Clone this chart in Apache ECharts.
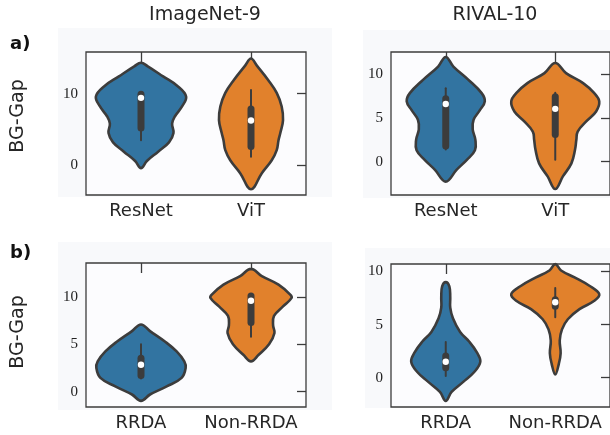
<!DOCTYPE html>
<html>
<head>
<meta charset="utf-8">
<script src="https://cdn.jsdelivr.net/npm/echarts@6/dist/echarts.min.js"></script>
<style>
  html, body { margin: 0; padding: 0; background: #ffffff; }
  #wrap { position: relative; width: 610px; height: 435px; overflow: hidden; }
  .panel-bg { position: absolute; background: #f8f9fb; }
  #chart { position: absolute; left: 0; top: 0; width: 610px; height: 435px; }
</style>
</head>
<body>
<div id="wrap">
  <div class="panel-bg" style="left:58px;top:28px;width:274px;height:169px"></div>
  <div class="panel-bg" style="left:363px;top:30px;width:247px;height:168px"></div>
  <div class="panel-bg" style="left:58px;top:242px;width:274px;height:168px"></div>
  <div class="panel-bg" style="left:365px;top:248px;width:245px;height:160px"></div>
  <div id="chart"></div>
</div>
<script>
// Category names for the two rows
const archCats = ['ResNet', 'ViT'];
const augCats = ['RRDA', 'Non-RRDA'];
const yTicksInet9Arch = [0, 10];
const yTicksOther = [0, 5, 10];

// Violin outlines: BG-Gap levels and the relative density (1 = widest) at each level
const inet9ResNetLevels   = [14.3, 13.8, 12.4, 11.0, 9.6, 8.2, 6.8, 5.8, 4.5, 3.2, 1.9, 0.6, -0.4];
const inet9ResNetDensity  = [0, 0.15, 0.49, 0.82, 1.0, 0.91, 0.75, 0.69, 0.72, 0.62, 0.38, 0.13, 0];
const inet9ViTLevels      = [14.9, 13.9, 11.9, 10.1, 8.2, 6.3, 4.5, 3.5, 2.1, 0.7, -1.1, -3.35];
const inet9ViTDensity     = [0, 0.13, 0.38, 0.57, 0.68, 0.71, 0.65, 0.61, 0.57, 0.46, 0.24, 0];

const rival10ResNetLevels  = [12.0, 10.9, 9.4, 7.85, 6.9, 5.9, 4.8, 3.7, 2.5, 1.3, 0.2, -0.95, -2.3];
const rival10ResNetDensity = [0, 0.17, 0.50, 0.80, 0.87, 0.76, 0.62, 0.60, 0.66, 0.65, 0.47, 0.24, 0];
const rival10ViTLevels     = [11.3, 10.15, 9.0, 7.85, 6.9, 5.75, 4.6, 3.45, 2.5, 1.35, -0.2, -1.7, -3.15];
const rival10ViTDensity    = [0, 0.24, 0.62, 0.87, 0.98, 0.91, 0.69, 0.50, 0.47, 0.44, 0.36, 0.17, 0];

const inet9RrdaLevels     = [7.1, 6.4, 5.3, 4.25, 3.2, 2.5, 1.45, 0.55, -0.3, -0.97];
const inet9RrdaDensity    = [0, 0.20, 0.53, 0.79, 0.96, 0.99, 0.90, 0.57, 0.20, 0];
const inet9NonRrdaLevels  = [12.97, 12.2, 11.3, 10.25, 9.9, 9.0, 8.0, 7.0, 6.2, 5.0, 3.9, 3.2];
const inet9NonRrdaDensity = [0, 0.24, 0.61, 0.87, 0.90, 0.71, 0.51, 0.49, 0.52, 0.40, 0.17, 0];

const rival10RrdaLevels     = [9.0, 8.6, 7.6, 6.6, 5.6, 4.3, 3.4, 2.4, 1.5, 0.55, -0.4, -1.35, -2.2];
const rival10RrdaDensity    = [0, 0.08, 0.1, 0.1, 0.16, 0.32, 0.52, 0.69, 0.77, 0.64, 0.39, 0.13, 0];
const rival10NonRrdaLevels  = [10.7, 10.1, 9.45, 8.66, 7.87, 7.24, 6.45, 5.5, 4.55, 3.5, 2.3, 1.3, 0.3];
const rival10NonRrdaDensity = [0, 0.13, 0.43, 0.76, 0.98, 0.87, 0.54, 0.28, 0.15, 0.10, 0.12, 0.08, 0];

// Inner box plots: [lower whisker, Q1, median, Q3, upper whisker]
const inet9ArchBox   = [[3.5, 5.2, 9.4, 9.9, 10.2], [1.2, 2.6, 6.25, 7.85, 10.5]];
const rival10ArchBox = [[1.4, 1.8, 6.6, 7.2, 8.4], [0.2, 3.1, 6.05, 7.45, 7.9]];
const inet9AugBox    = [[1.4, 1.72, 2.85, 3.53, 5.0], [5.8, 7.3, 9.6, 10.1, 10.3]];
const rival10AugBox  = [[0.15, 0.93, 1.5, 2.04, 3.35], [5.68, 6.73, 7.1, 7.35, 8.45]];

const BLUE = '#3274a1';
const ORANGE = '#e1812c';
const INK = '#3c3c3c';
const SANS = '"DejaVu Sans", sans-serif';
const SERIF = '"Liberation Serif", "DejaVu Serif", serif';
const VIOLIN_HALF = 0.41; // half width of a density-1 violin, as a share of the category band

const panels = [
  { grid: { left: 86, top: 52, width: 220, height: 143 }, cats: archCats, min: -4.15, max: 15.8,
    ticks: yTicksInet9Arch, levels: [inet9ResNetLevels, inet9ViTLevels],
    density: [inet9ResNetDensity, inet9ViTDensity], box: inet9ArchBox },
  { grid: { left: 391, top: 52, width: 220, height: 143 }, cats: archCats, min: -3.83, max: 12.57,
    ticks: yTicksOther, levels: [rival10ResNetLevels, rival10ViTLevels],
    density: [rival10ResNetDensity, rival10ViTDensity], box: rival10ArchBox },
  { grid: { left: 86, top: 263, width: 220, height: 144 }, cats: augCats, min: -1.62, max: 13.59,
    ticks: yTicksOther, levels: [inet9RrdaLevels, inet9NonRrdaLevels],
    density: [inet9RrdaDensity, inet9NonRrdaDensity], box: inet9AugBox },
  { grid: { left: 391, top: 264, width: 220, height: 143 }, cats: augCats, min: -2.77, max: 10.71,
    ticks: yTicksOther, levels: [rival10RrdaLevels, rival10NonRrdaLevels],
    density: [rival10RrdaDensity, rival10NonRrdaDensity], box: rival10AugBox }
];

const grids = [], xAxes = [], yAxes = [], series = [];

panels.forEach((p, g) => {
  grids.push(Object.assign({
    show: true, borderColor: INK, borderWidth: 1.3, backgroundColor: '#fcfcfe', containLabel: false
  }, p.grid));

  // bottom axis carries the labels, top axis carries the inward ticks
  xAxes.push({
    type: 'category', gridIndex: g, data: p.cats, position: 'bottom',
    axisLine: { show: false, onZero: false }, axisTick: { show: false }, splitLine: { show: false },
    axisLabel: { interval: 0, fontFamily: SANS, fontSize: 18, color: '#262626', margin: 7 }
  });
  xAxes.push({
    type: 'category', gridIndex: g, data: p.cats, position: 'top',
    axisLine: { show: false, onZero: false }, axisLabel: { show: false }, splitLine: { show: false },
    axisTick: { show: true, inside: true, length: 10, alignWithLabel: true, interval: 0,
      lineStyle: { color: INK, width: 1.3 } }
  });
  yAxes.push({
    type: 'value', gridIndex: g, min: p.min, max: p.max, position: 'left',
    axisLine: { show: false, onZero: false }, axisTick: { show: false }, splitLine: { show: false },
    axisLabel: { customValues: p.ticks, fontFamily: SERIF, fontSize: 15, color: '#222', margin: 8 }
  });
  yAxes.push({
    type: 'value', gridIndex: g, min: p.min, max: p.max, position: 'right',
    axisLine: { show: false, onZero: false }, axisLabel: { show: false }, splitLine: { show: false },
    axisTick: { show: true, inside: true, length: 9, customValues: p.ticks,
      lineStyle: { color: INK, width: 1.3 } }
  });

  series.push({
    type: 'custom',
    xAxisIndex: g * 2, yAxisIndex: g * 2,
    data: p.box.map((b, i) => [i, b[2]]),
    renderItem(params, api) {
      const i = params.dataIndex;
      const cat = api.value(0);
      const levels = p.levels[i], dens = p.density[i], box = p.box[i];
      const cx = api.coord([cat, 0])[0];
      const half = api.size([1, 0])[0] * VIOLIN_HALF;
      const n = levels.length;
      const pts = [];
      for (let k = 0; k < n; k++) {
        pts.push([cx - dens[k] * half, api.coord([cat, levels[k]])[1]]);
      }
      for (let k = n - 2; k >= 1; k--) {
        pts.push([cx + dens[k] * half, api.coord([cat, levels[k]])[1]]);
      }
      const yOf = v => api.coord([cat, v])[1];
      return {
        type: 'group',
        children: [
          { type: 'polygon', shape: { points: pts, smooth: 0.4 },
            style: { fill: i === 0 ? BLUE : ORANGE, stroke: INK, lineWidth: 2.6, lineJoin: 'round' } },
          { type: 'line', shape: { x1: cx, y1: yOf(box[0]), x2: cx, y2: yOf(box[4]) },
            style: { stroke: INK, lineWidth: 2, lineCap: 'round' } },
          { type: 'line', shape: { x1: cx, y1: yOf(box[1]), x2: cx, y2: yOf(box[3]) },
            style: { stroke: INK, lineWidth: 7, lineCap: 'round' } },
          { type: 'circle', shape: { cx: cx, cy: yOf(box[2]), r: 3.2 },
            style: { fill: '#ffffff' } }
        ]
      };
    }
  });
});

const textColor = '#262626';
const graphics = [
  { type: 'text', x: 205, y: 15, style: { text: 'ImageNet-9', font: '19px ' + SANS, fill: textColor, align: 'center', verticalAlign: 'middle' } },
  { type: 'text', x: 495, y: 15, style: { text: 'RIVAL-10', font: '19px ' + SANS, fill: textColor, align: 'center', verticalAlign: 'middle' } },
  { type: 'text', x: 10, y: 44, style: { text: 'a)', font: 'bold 18px ' + SANS, fill: '#111', align: 'left', verticalAlign: 'middle' } },
  { type: 'text', x: 10, y: 253, style: { text: 'b)', font: 'bold 18px ' + SANS, fill: '#111', align: 'left', verticalAlign: 'middle' } },
  { type: 'text', x: 18, y: 116, rotation: Math.PI / 2, style: { text: 'BG-Gap', font: '19px ' + SANS, fill: textColor, align: 'center', verticalAlign: 'middle' } },
  { type: 'text', x: 18, y: 332, rotation: Math.PI / 2, style: { text: 'BG-Gap', font: '19px ' + SANS, fill: textColor, align: 'center', verticalAlign: 'middle' } }
];

const chart = echarts.init(document.getElementById('chart'), null, { renderer: 'canvas' });
chart.setOption({
  animation: false,
  backgroundColor: 'transparent',
  grid: grids,
  xAxis: xAxes,
  yAxis: yAxes,
  series: series,
  graphic: { elements: graphics }
});
</script>
</body>
</html>
